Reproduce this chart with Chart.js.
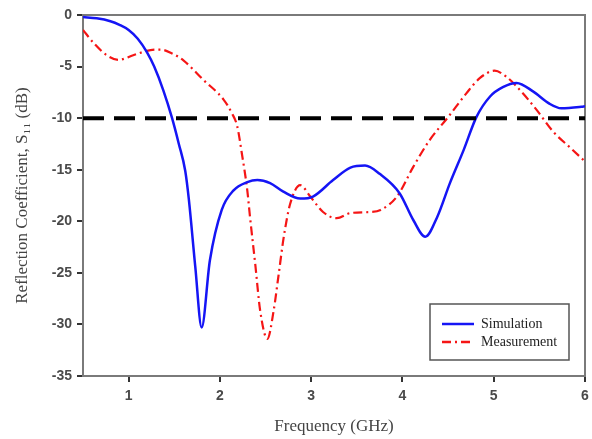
<!DOCTYPE html>
<html>
<head>
<meta charset="utf-8">
<script src="https://cdn.jsdelivr.net/npm/chart.js@4"></script>
<style>
  body { margin: 0; background: #fff; }
</style>
</head>
<body>
<canvas id="grafico" width="592" height="439"></canvas>
<script>
// dados
const simFreq = [0.5, 0.65, 0.8, 0.9, 1.0, 1.1, 1.2, 1.28, 1.38, 1.476, 1.55, 1.62, 1.66, 1.73, 1.80, 1.89, 2.02, 2.15, 2.30, 2.41, 2.55, 2.69, 2.88, 3.02, 3.24, 3.43, 3.59, 3.75, 3.97, 4.12, 4.25, 4.38, 4.52, 4.67, 4.81, 4.96, 5.10, 5.25, 5.43, 5.61, 5.74, 5.96, 6.0];
const simS11 = [-0.2, -0.32, -0.6, -0.95, -1.45, -2.3, -3.6, -5.0, -7.3, -10, -12.5, -15.1, -17.9, -24.4, -30.3, -23.8, -18.9, -17.0, -16.2, -16.0, -16.3, -17.1, -17.8, -17.6, -16.0, -14.8, -14.6, -15.4, -17.3, -19.9, -21.5, -19.6, -16.3, -13.1, -9.9, -7.9, -7.0, -6.6, -7.4, -8.6, -9.05, -8.9, -8.85];

const measFreq = [0.5, 0.62, 0.76, 0.89, 1.05, 1.24, 1.35, 1.47, 1.60, 1.82, 2.04, 2.13, 2.19, 2.24, 2.30, 2.33, 2.39, 2.44, 2.52, 2.59, 2.64, 2.70, 2.77, 2.88, 2.99, 3.13, 3.28, 3.43, 3.65, 3.76, 3.94, 4.12, 4.30, 4.50, 4.70, 4.85, 5.01, 5.14, 5.29, 5.47, 5.65, 5.83, 6.0];
const measS11 = [-1.45, -2.75, -3.9, -4.35, -3.9, -3.4, -3.35, -3.7, -4.4, -6.3, -8.2, -9.5, -10.8, -13.4, -17.0, -19.6, -24.4, -28.6, -31.4, -28.6, -25.4, -21.5, -18.3, -16.5, -17.6, -19.1, -19.7, -19.2, -19.1, -18.9, -17.6, -14.7, -12.1, -9.9, -7.6, -6.1, -5.4, -6.0, -7.3, -9.2, -11.3, -12.8, -14.2];

const refFreq = [0.5, 6];
const refS11 = [-10, -10];

const legendas = ["Simulation", "Measurement"];

function pares(xs, ys) {
  return xs.map((x, i) => ({ x: x, y: ys[i] }));
}

const CORES = { sim: "#1515f5", meas: "#f51515", eixo: "#7a7a7a", marca: "#333333", texto: "#4a4a4a" };
const TRACO_MEAS = [9, 4, 2, 4];

// moldura de cima e da direita
const moldura = {
  id: "moldura",
  beforeDatasetsDraw(chart) {
    const { ctx, chartArea: a } = chart;
    ctx.save();
    ctx.strokeStyle = CORES.eixo;
    ctx.lineWidth = 2;
    ctx.beginPath();
    ctx.moveTo(a.left, a.top);
    ctx.lineTo(a.right, a.top);
    ctx.lineTo(a.right, a.bottom);
    ctx.stroke();
    ctx.restore();
  },
};

// legenda dentro do grafico
const legendaBox = {
  id: "legendaBox",
  afterDatasetsDraw(chart) {
    const { ctx, chartArea: a } = chart;
    const x0 = a.right - 155, y0 = a.bottom - 72, w = 139, h = 56;
    ctx.save();
    ctx.fillStyle = "#fff";
    ctx.fillRect(x0, y0, w, h);
    ctx.strokeStyle = "#555";
    ctx.lineWidth = 1.5;
    ctx.strokeRect(x0, y0, w, h);

    ctx.font = "14px 'Liberation Serif'";
    ctx.fillStyle = "#222";
    ctx.textBaseline = "middle";

    const linhas = [
      { y: y0 + 20, cor: CORES.sim, dash: [] },
      { y: y0 + 38, cor: CORES.meas, dash: TRACO_MEAS },
    ];
    linhas.forEach((l, i) => {
      ctx.strokeStyle = l.cor;
      ctx.lineWidth = 2.5;
      ctx.setLineDash(l.dash);
      ctx.beginPath();
      ctx.moveTo(x0 + 12, l.y);
      ctx.lineTo(x0 + 44, l.y);
      ctx.stroke();
      ctx.setLineDash([]);
      ctx.fillText(legendas[i], x0 + 51, l.y);
    });
    ctx.restore();
  },
};

const CANVAS = document.querySelector("#grafico");

let grafico = new Chart(CANVAS, {
  type: "line",
  data: {
    datasets: [
      {
        label: "-10 dB",
        data: pares(refFreq, refS11),
        borderColor: "#000",
        borderWidth: 4,
        borderDash: [21, 10],
        pointRadius: 0,
      },
      {
        label: legendas[0],
        data: pares(simFreq, simS11),
        borderColor: CORES.sim,
        borderWidth: 2.5,
        pointRadius: 0,
        cubicInterpolationMode: "monotone",
      },
      {
        label: legendas[1],
        data: pares(measFreq, measS11),
        borderColor: CORES.meas,
        borderWidth: 2.2,
        borderDash: TRACO_MEAS,
        pointRadius: 0,
        cubicInterpolationMode: "monotone",
      },
    ],
  },
  options: {
    responsive: false,
    animation: false,
    layout: { padding: { top: 15, right: 7, left: 0, bottom: 0 } },
    plugins: {
      legend: { display: false },
      tooltip: { enabled: false },
    },
    scales: {
      x: {
        type: "linear",
        min: 0.5,
        max: 6,
        afterFit(scale) {
          scale.height = 63;
          scale.paddingRight = 0;
        },
        afterBuildTicks(scale) {
          scale.ticks = scale.ticks.filter(t => Number.isInteger(t.value));
        },
        ticks: {
          stepSize: 1,
          padding: 6,
          color: CORES.texto,
          font: { family: "'Liberation Sans'", size: 14, weight: "bold" },
        },
        grid: { drawOnChartArea: false, drawTicks: true, tickLength: 6, color: CORES.marca, lineWidth: 2 },
        border: { color: CORES.eixo, width: 2 },
        title: {
          display: true,
          text: "Frequency (GHz)",
          color: "#444",
          font: { family: "'Liberation Serif'", size: 17 },
          padding: { top: 0, bottom: 2 },
        },
      },
      y: {
        min: -35,
        max: 0,
        afterFit(scale) { scale.width = 83; },
        ticks: {
          stepSize: 5,
          padding: 5,
          color: CORES.texto,
          font: { family: "'Liberation Sans'", size: 14, weight: "bold" },
        },
        grid: { drawOnChartArea: false, drawTicks: true, tickLength: 6, color: CORES.marca, lineWidth: 2 },
        border: { color: CORES.eixo, width: 2 },
        title: {
          display: true,
          text: "Reflection Coefficient, S\u2081\u2081 (dB)",
          color: "#444",
          font: { family: "'Liberation Serif'", size: 17 },
          padding: { top: 12, bottom: 0 },
        },
      },
    },
  },
  plugins: [moldura, legendaBox],
});
</script>
</body>
</html>
